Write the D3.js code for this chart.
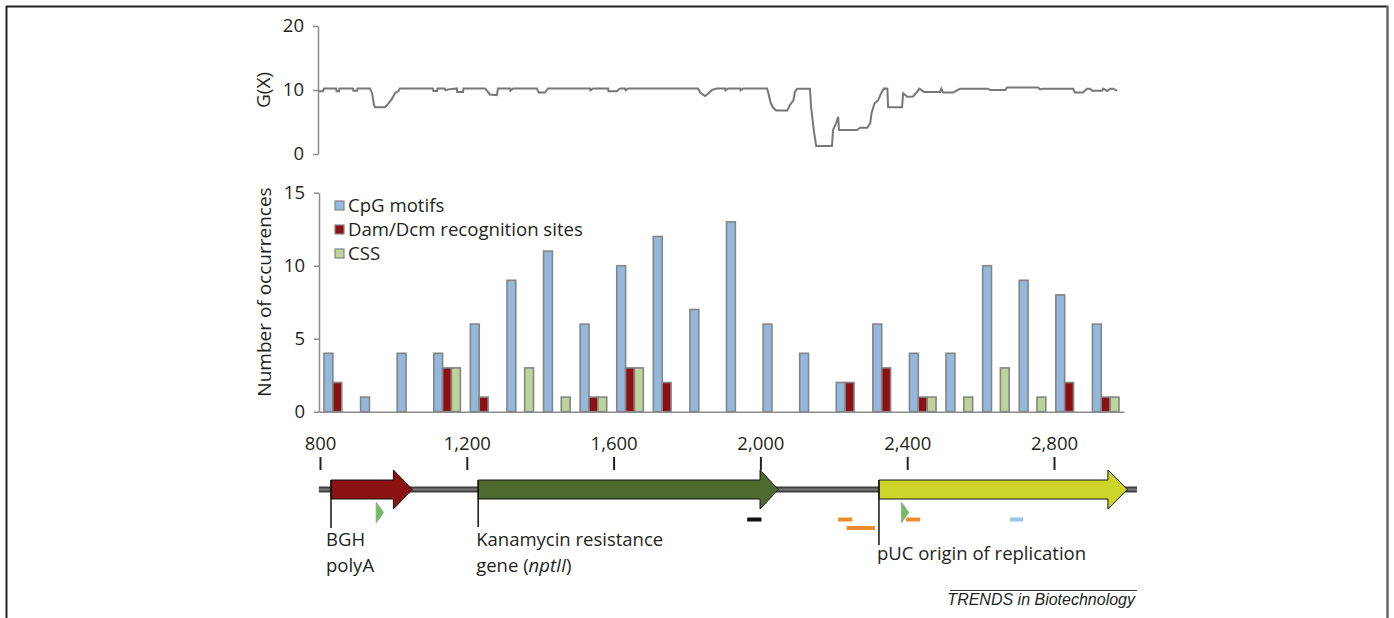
<!DOCTYPE html>
<html>
<head>
<meta charset="utf-8">
<script src="https://cdn.jsdelivr.net/npm/d3@7"></script>
<style>
  body { margin: 0; background: #fff; }
  svg text { font-family: "Open Sans", sans-serif; fill: #231f20; }
</style>
</head>
<body>
<div class="chart"></div>
<script>
(function(){
// G(X) profile, position (bp) and value
var gPos = [795, 808, 811, 844, 845, 852, 853, 890, 891, 901, 902, 936, 942, 947, 950, 977, 985, 996, 1004, 1013, 1018,
  1108, 1109, 1119, 1120, 1140, 1142, 1150, 1173, 1174, 1190, 1191, 1250, 1263, 1282, 1285, 1318, 1319, 1326,
  1391, 1396, 1413, 1421, 1536, 1537, 1544, 1585, 1586, 1609, 1612, 1618, 1631, 1633, 1640, 1830, 1836, 1849,
  1857, 1868, 1882, 1904, 1905, 1912, 1945, 1946, 1953, 2018, 2021, 2028, 2034, 2043, 2073, 2081, 2090, 2094,
  2100, 2135, 2138, 2146, 2152, 2195, 2198, 2206, 2212, 2214, 2263, 2272, 2291, 2299, 2303, 2311, 2321, 2329,
  2337, 2346, 2348, 2386, 2389, 2400, 2416, 2427, 2433, 2446, 2490, 2493, 2498, 2525, 2536, 2544, 2620, 2626,
  2667, 2672, 2757, 2762, 2770, 2852, 2857, 2879, 2890, 2898, 2904, 2931, 2934, 2945, 2953, 2961, 2972];
var gVal = [9.8, 9.8, 10.25, 10.25, 9.8, 9.8, 10.25, 10.25, 9.9, 9.9, 10.25, 10.25, 9.5, 7.7, 7.3, 7.3, 7.8, 8.6, 9.5, 9.8, 10.25,
  10.25, 9.85, 9.85, 10.25, 10.25, 9.95, 10.1, 10.25, 9.7, 9.7, 10.25, 10.25, 9.3, 9.2, 10.25, 10.25, 9.9, 10.25,
  10.25, 9.6, 9.6, 10.25, 10.25, 9.95, 10.25, 10.25, 9.8, 9.8, 10.0, 10.25, 10.25, 9.95, 10.25, 10.25, 9.6, 9.06,
  9.4, 10.0, 10.25, 10.25, 9.95, 10.25, 10.25, 9.95, 10.25, 10.25, 9.7, 8.0, 7.3, 6.8, 6.8, 7.7, 8.4, 9.7,
  10.2, 10.2, 7.4, 3.5, 1.25, 1.25, 3.75, 4.8, 5.8, 3.75, 3.75, 4.1, 4.1, 4.8, 6.4, 7.9, 8.4, 9.5,
  10.25, 10.2, 7.3, 7.3, 9.5, 8.95, 9.0, 9.7, 10.2, 9.7, 9.7, 10.2, 9.6, 9.6, 9.95, 10.2, 10.2, 10.0,
  10.0, 10.4, 10.4, 10.1, 10.2, 10.2, 9.6, 9.6, 10.2, 10.2, 9.9, 9.9, 10.2, 9.85, 10.2, 10.2, 9.85];
var gTicks = [0, 10, 20];

// occurrences per 100 bp window
var bins = ["800", "900", "1000", "1100", "1200", "1300", "1400", "1500", "1600", "1700", "1800",
  "1900", "2000", "2100", "2200", "2300", "2400", "2500", "2600", "2700", "2800", "2900"];
var series = ["CpG motifs", "Dam/Dcm recognition sites", "CSS"];
var cpg = [4, 1, 4, 4, 6, 9, 11, 6, 10, 12, 7, 13, 6, 4, 2, 6, 4, 4, 10, 9, 8, 6];
var damDcm = [2, 0, 0, 3, 1, 0, 0, 1, 3, 2, 0, 0, 0, 0, 2, 3, 1, 0, 0, 0, 2, 1];
var css = [0, 0, 0, 3, 0, 3, 1, 1, 3, 0, 0, 0, 0, 0, 0, 0, 1, 1, 3, 1, 0, 1];
var countTicks = [0, 5, 10, 15];

// plasmid map
var mapTicks = [800, 1200, 1600, 2000, 2400, 2800];
var backbone = [797, 3026];
var featureLabels = [["BGH", "polyA"], ["Kanamycin resistance", "gene (nptII)"], ["pUC origin of replication"]];
var featureStart = [830, 1231, 2323];
var featureHead = [1000, 1999, 2947];
var featureEnd = [1052, 2049, 3000];
var siteStart = [1964, 2212, 2235, 2397, 2680];
var siteEnd = [2003, 2250, 2312, 2435, 2716];
var siteRow = [0, 0, 1, 0, 0];
var siteKind = ["black", "orange", "orange", "orange", "blue"];
var promoterPos = [953, 2384];

var seriesColor = ["#93b8dc", "#8e0f12", "#bcd39c"];
var featureColor = ["#8b1212", "#4f6a2e", "#cdd52b"];
var siteColor = {black: "#111", orange: "#ef8a2c", blue: "#9cc4e6"};

var W = 1394, H = 618;
var svg = d3.select('.chart').append('svg').attr('width', W).attr('height', H);

// frame
svg.append('line').attr('x1', 6).attr('x2', 1388).attr('y1', 6.5).attr('y2', 6.5).attr('stroke', '#222').attr('stroke-width', 2);
svg.append('line').attr('x1', 6.5).attr('x2', 6.5).attr('y1', 6).attr('y2', H).attr('stroke', '#222').attr('stroke-width', 2);
svg.append('line').attr('x1', 1387.5).attr('x2', 1387.5).attr('y1', 6).attr('y2', H).attr('stroke', '#666').attr('stroke-width', 2.5);

var x = d3.scaleLinear().domain([800, 2800]).range([320, 1054]);
var axisGray = '#8c8c8c';

function styleAxis(g) {
  g.select('.domain').attr('stroke', axisGray).attr('stroke-width', 1.5);
  g.selectAll('.tick line').attr('stroke', axisGray).attr('stroke-width', 1.5);
  g.selectAll('.tick text').attr('font-size', 18.5).attr('font-family', '"Open Sans", sans-serif').attr('fill', '#231f20');
}

// ---- G(X) panel
var yG = d3.scaleLinear().domain([0, 20]).range([154, 26]);
svg.append('g').attr('transform', 'translate(318,0)')
  .call(d3.axisLeft(yG).tickValues(gTicks).tickSize(5).tickSizeOuter(0).tickPadding(9))
  .call(styleAxis);
svg.append('path')
  .datum(gPos.map(function(p, i){ return [p, gVal[i]]; }))
  .attr('fill', 'none').attr('stroke', '#777').attr('stroke-width', 2)
  .attr('d', d3.line().x(function(d){ return x(d[0]); }).y(function(d){ return yG(d[1]); }));
svg.append('text').attr('transform', 'translate(270,90) rotate(-90)')
  .attr('text-anchor', 'middle').attr('font-size', 19).text('G(X)');

// ---- occurrences panel
var yC = d3.scaleLinear().domain([0, 15]).range([411.7, 192.7]);
var x0 = d3.scaleBand().domain(bins).range([319, 1124]).paddingInner(0.273).paddingOuter(0.1365);
var x1 = d3.scaleBand().domain(series).range([0, x0.bandwidth()]);
var values = [cpg, damDcm, css];

var groups = svg.append('g').selectAll('g').data(bins).enter().append('g')
  .attr('transform', function(d){ return 'translate(' + x0(d) + ',0)'; });
groups.selectAll('rect')
  .data(function(d, i){ return series.map(function(s, k){ return {s: s, k: k, v: values[k][i]}; }).filter(function(e){ return e.v > 0; }); })
  .enter().append('rect')
  .attr('x', function(d){ return x1(d.s); })
  .attr('width', x1.bandwidth())
  .attr('y', function(d){ return yC(d.v); })
  .attr('height', function(d){ return yC(0) - yC(d.v); })
  .attr('fill', function(d){ return seriesColor[d.k]; })
  .attr('stroke', '#858585').attr('stroke-width', 1.6);

svg.append('g').attr('transform', 'translate(319,0)')
  .call(d3.axisLeft(yC).tickValues(countTicks).tickSize(5).tickSizeOuter(0).tickPadding(9))
  .call(styleAxis);
svg.append('g').attr('transform', 'translate(0,411.7)')
  .call(d3.axisBottom(d3.scaleLinear().range([319, 1124])).tickValues([]).tickSizeOuter(0))
  .call(styleAxis);
svg.append('text').attr('transform', 'translate(271,292) rotate(-90)')
  .attr('text-anchor', 'middle').attr('font-size', 19).text('Number of occurrences');

var legend = svg.append('g').selectAll('g').data(series).enter().append('g')
  .attr('transform', function(d, i){ return 'translate(335,' + (201 + i * 24) + ')'; });
legend.append('rect').attr('width', 9).attr('height', 9)
  .attr('fill', function(d, i){ return seriesColor[i]; })
  .attr('stroke', '#858585').attr('stroke-width', 1.2);
legend.append('text').attr('x', 13).attr('y', 11).attr('font-size', 18.6).text(function(d){ return d; });

// ---- plasmid map
var mapAxis = svg.append('g').attr('transform', 'translate(0,470)')
  .call(d3.axisTop(x).tickValues(mapTicks).tickSize(13).tickPadding(7).tickFormat(d3.format(',')));
mapAxis.select('.domain').remove();
mapAxis.selectAll('.tick line').attr('stroke', '#222').attr('stroke-width', 2);
mapAxis.selectAll('.tick text').attr('font-size', 18.5).attr('font-family', '"Open Sans", sans-serif').attr('fill', '#231f20');

var bbY = 489.5;
svg.append('line').attr('x1', x(backbone[0])).attr('x2', x(backbone[1])).attr('y1', bbY).attr('y2', bbY)
  .attr('stroke', '#3f3f3f').attr('stroke-width', 6);
svg.append('line').attr('x1', x(backbone[0])).attr('x2', x(backbone[1])).attr('y1', bbY).attr('y2', bbY)
  .attr('stroke', '#7a7a7a').attr('stroke-width', 2);

function arrowPath(i) {
  var a = x(featureStart[i]), h = x(featureHead[i]), e = x(featureEnd[i]);
  return 'M' + a + ',' + (bbY - 9.5) + 'H' + h + 'V' + (bbY - 19.5) + 'L' + e + ',' + bbY +
    'L' + h + ',' + (bbY + 19.5) + 'V' + (bbY + 9.5) + 'H' + a + 'Z';
}
var leaderEnd = [528, 527, 545];
var labelY = [[546, 572], [546, 572], [560]];
featureStart.forEach(function(s, i){
  svg.append('path').attr('d', arrowPath(i)).attr('fill', featureColor[i])
    .attr('stroke', '#111').attr('stroke-width', 1);
  svg.append('line').attr('x1', x(s)).attr('x2', x(s)).attr('y1', bbY - 9.5).attr('y2', leaderEnd[i])
    .attr('stroke', '#111').attr('stroke-width', 1.5);
  featureLabels[i].forEach(function(t, j){
    var tx = svg.append('text').attr('x', x(s) - (i === 0 ? 5 : 2)).attr('y', labelY[i][j]).attr('font-size', 18.5);
    var m = t.match(/^(.*\()(.*)(\).*)$/);
    if (m) {
      tx.append('tspan').text(m[1]);
      tx.append('tspan').attr('font-style', 'italic').text(m[2]);
      tx.append('tspan').text(m[3]);
    } else {
      tx.text(t);
    }
  });
});

siteStart.forEach(function(s, i){
  svg.append('rect').attr('x', x(s)).attr('width', x(siteEnd[i]) - x(s))
    .attr('y', 517.5 + siteRow[i] * 8.5).attr('height', 4)
    .attr('fill', siteColor[siteKind[i]]);
});
promoterPos.forEach(function(p){
  var px = x(p);
  svg.append('path').attr('d', 'M' + px + ',' + 502 + 'L' + (px + 7.5) + ',' + 512.5 + 'L' + px + ',' + 523 + 'Z')
    .attr('fill', '#6cbf5c').attr('stroke', '#9aa59a').attr('stroke-width', 0.8);
});

// source
svg.append('line').attr('x1', 950).attr('x2', 1137).attr('y1', 590.5).attr('y2', 590.5).attr('stroke', '#333').attr('stroke-width', 1);
svg.append('text').attr('x', 1135).attr('y', 605).attr('text-anchor', 'end')
  .attr('font-style', 'italic').attr('font-size', 16)
  .style('font-family', '"Liberation Sans", Arial, sans-serif').text('TRENDS in Biotechnology');
}).call(this);
</script>
</body>
</html>
